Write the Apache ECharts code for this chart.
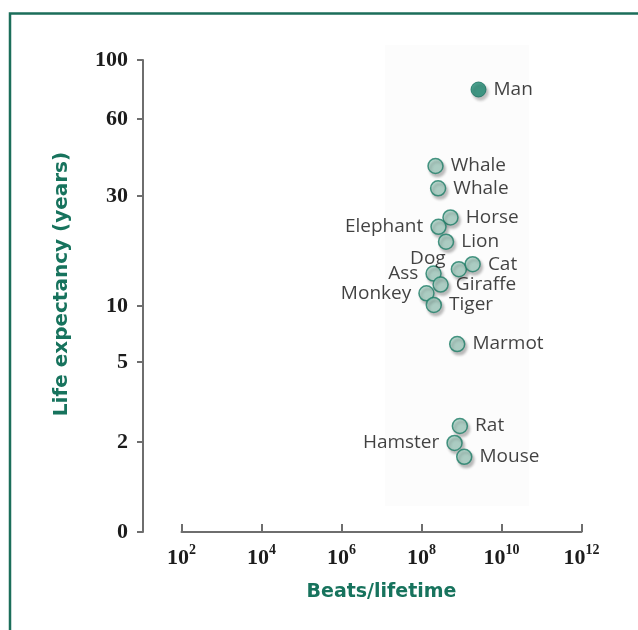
<!DOCTYPE html>
<html>
<head>
<meta charset="utf-8">
<script src="https://cdn.jsdelivr.net/npm/echarts@6/dist/echarts.min.js"></script>
<style>
html,body{margin:0;padding:0;background:#fff;}
#chart{width:638px;height:630px;}
</style>
</head>
<body>
<div id="chart"></div>
<script>
// ---- data ----
const animals = ['Man','Whale','Whale','Horse','Elephant','Lion','Dog','Cat','Ass','Giraffe','Monkey','Tiger','Marmot','Rat','Hamster','Mouse'];
const beats = [2.66e9,2.24e8,2.6e8,5.3e8,2.66e8,4.1e8,8.6e8,1.9e9,2.0e8,3.0e8,1.33e8,2.03e8,7.8e8,9.1e8,6.7e8,1.17e9];
const lifeYears = [80,41.7,33,26.1,24.4,21.7,16.7,17.6,15.9,13.9,12.3,10.2,6.6,2.6,1.98,1.67];
const yTickLabels = [0,2,5,10,30,60,100];
// the printed y scale is irregular: axis units at which each tick label sits
const yTickPos = [0,90,170,226,336,413,472];
const xTickValues = [1e2,1e4,1e6,1e8,1e10,1e12];

// piecewise scale of the printed axis
function toAxis(y){
  for(let i=0;i<yTickLabels.length-1;i++){
    const a=yTickLabels[i], b=yTickLabels[i+1];
    if(y>=a && y<=b){
      return yTickPos[i]+(y-a)/(b-a)*(yTickPos[i+1]-yTickPos[i]);
    }
  }
  return yTickPos[yTickPos.length-1];
}

const GREEN='#17735d';
const labelLeft = {Elephant:1, Dog:1, Ass:1, Monkey:1, Hamster:1};
const labelOffset = {Dog:[2,-11]};

const points = animals.map((n,i)=>{
  const isMan = n==='Man';
  const left = !!labelLeft[n];
  return {
    name:n,
    value:[beats[i], toAxis(lifeYears[i])],
    itemStyle: isMan ? {color:'#1e8a72', borderColor:'#177060', borderWidth:1} : undefined,
    label:{position: left?'left':'right', offset: labelOffset[n]||[0,0]}
  };
});

const chart = echarts.init(document.getElementById('chart'), null, {renderer:'canvas'});
chart.setOption({
  animation:false,
  backgroundColor:'#fff',
  graphic:[
    {type:'rect', shape:{x:385,y:45,width:144,height:461}, style:{fill:'#fcfcfc'}, z:-10},
    {type:'polyline', shape:{points:[[10,630],[10,13.5],[638,13.5]]}, style:{stroke:'#1b6e5a', lineWidth:2.5, fill:null}, z:10}
  ],
  grid:{left:181.5, top:60, width:400, height:472},
  xAxis:{
    type:'log', min:1e2, max:1e12, logBase:10,
    offset:1.5,
    name:'Beats/lifetime', nameLocation:'middle', nameGap:49,
    nameTextStyle:{fontFamily:'DejaVu Sans', fontWeight:'bold', fontSize:19, color:GREEN},
    axisLine:{lineStyle:{color:'#6e6e6e', width:2}},
    axisTick:{inside:true, length:8, lineStyle:{color:'#6e6e6e', width:2}, customValues:xTickValues},
    splitLine:{show:false},
    minorTick:{show:false},
    axisLabel:{
      customValues:xTickValues,
      margin:10,
      formatter:function(v){
        const e=Math.round(Math.log10(v));
        return '{b|10}{s|'+e+'}';
      },
      rich:{
        b:{fontFamily:'Liberation Serif', fontWeight:'bold', fontSize:22, color:'#1c1c1c', lineHeight:30},
        s:{fontFamily:'Liberation Serif', fontWeight:'bold', fontSize:14, color:'#1c1c1c', lineHeight:14, verticalAlign:'top'}
      }
    }
  },
  yAxis:{
    type:'value', min:0, max:472,
    offset:38.5,
    name:'Life expectancy (years)', nameLocation:'middle', nameGap:71, nameRotate:90,
    nameTextStyle:{fontFamily:'DejaVu Sans', fontWeight:'bold', fontSize:20, color:GREEN, padding:[0,0,0,24]},
    axisLine:{show:true, lineStyle:{color:'#6e6e6e', width:2}},
    axisTick:{show:true, length:6, lineStyle:{color:'#6e6e6e', width:2}, customValues:yTickPos},
    splitLine:{show:false},
    axisLabel:{
      customValues:yTickPos,
      margin:15,
      fontFamily:'Liberation Serif', fontWeight:'bold', fontSize:22, color:'#1c1c1c',
      formatter:function(v){
        const i=yTickPos.indexOf(v);
        return i>=0 ? String(yTickLabels[i]) : '';
      }
    }
  },
  series:[{
    type:'scatter',
    symbol:'circle',
    symbolSize:15,
    itemStyle:{color:'#a6cfc3', borderColor:'#1d7d66', borderWidth:1.5,
      shadowBlur:3, shadowOffsetX:2, shadowOffsetY:3, shadowColor:'rgba(0,0,0,0.3)'},
    label:{show:true, formatter:'{b}', distance:7, fontFamily:'Open Sans', fontSize:19, color:'#111'},
    emphasis:{disabled:true},
    data:points
  }]
});
</script>
</body>
</html>
